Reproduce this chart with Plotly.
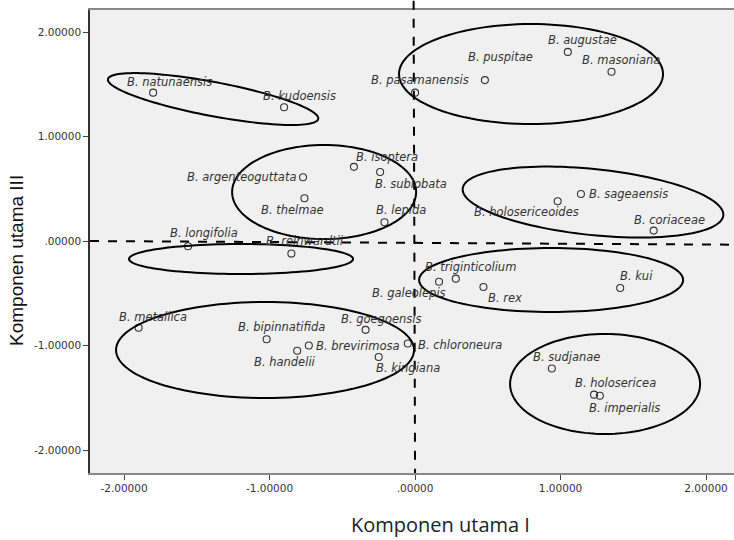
import math
import plotly.graph_objects as go

# ---------------- data ----------------
species = [
    "B. natunaensis", "B. kudoensis", "B. pasamanensis", "B. puspitae", "B. augustae",
    "B. masoniana", "B. argenteoguttata", "B. thelmae", "B. isoptera", "B. sublobata",
    "B. lepida", "B. holosericeoides", "B. sageaensis", "B. coriaceae", "B. longifolia",
    "B. reinwardtii", "B. galeolepis", "B. triginticolium", "B. rex", "B. kui",
    "B. goegoensis", "B. metallica", "B. bipinnatifida", "B. handelii", "B. brevirimosa",
    "B. chloroneura", "B. kingiana", "B. sudjanae", "B. holosericea", "B. imperialis",
]
komponen_1 = [
    -1.80, -0.90, 0.00, 0.48, 1.05,
    1.35, -0.77, -0.76, -0.42, -0.24,
    -0.21, 0.98, 1.14, 1.64, -1.56,
    -0.85, 0.165, 0.28, 0.47, 1.41,
    -0.34, -1.90, -1.02, -0.81, -0.73,
    -0.05, -0.25, 0.94, 1.23, 1.27,
]
komponen_3 = [
    1.42, 1.28, 1.42, 1.54, 1.81,
    1.62, 0.61, 0.41, 0.71, 0.66,
    0.18, 0.38, 0.45, 0.10, -0.05,
    -0.12, -0.39, -0.36, -0.44, -0.45,
    -0.85, -0.83, -0.94, -1.05, -1.00,
    -0.98, -1.11, -1.22, -1.47, -1.48,
]
x_ticks = [-2, -1, 0, 1, 2]
x_tick_text = ["-2.00000", "-1.00000", ".00000", "1.00000", "2.00000"]
y_ticks = [-2, -1, 0, 1, 2]
y_tick_text = ["-2.00000", "-1.00000", ".00000", "1.00000", "2.00000"]
x_title = "Komponen utama I"
y_title = "Komponen utama III"

# ---------------- label placement (screen px offsets, anchor) ----------------
label_offsets = [
    (16, -11, "center"), (15, -11, "center"), (5, -13, "center"), (16, -23, "center"), (15, -12, "center"),
    (10, -12, "center"), (-5, 0, "right"), (-12, 12, "center"), (0, -10, "left"), (-7, 12, "left"),
    (16, -12, "center"), (-31, 11, "center"), (6, 0, "left"), (16, -11, "center"), (16, -13, "center"),
    (14, -13, "center"), (-30, 11, "center"), (15, -12, "center"), (22, 11, "center"), (16, -12, "center"),
    (16, -11, "center"), (14, -11, "center"), (15, -12, "center"), (-12, 11, "center"), (5, 0, "left"),
    (8, 2, "left"), (29, 11, "center"), (15, -12, "center"), (21, -12, "center"), (25, 12, "center"),
]

# ellipses: centre (data), semi-axes (px), rotation (deg, y-up)
ellipses = [
    (-1.388, 1.359, 107, 17, -10.7),
    (0.797, 1.598, 132, 50, 0.0),
    (-0.625, 0.469, 92, 47, 0.0),
    (1.223, 0.373, 131, 33, -5.9),
    (-1.196, -0.172, 112, 15, 0.0),
    (0.935, -0.373, 132, 32, 0.0),
    (-1.031, -1.043, 149, 48, 0.0),
    (1.306, -1.368, 95, 50, 0.0),
]

W, H = 734, 540
ML, MR, MT, MB = 90, 0, 10, 67
XR = [-2.234, 2.192]
YR = [-2.22, 2.211]
sx = (W - ML - MR) / (XR[1] - XR[0])
sy = (H - MT - MB) / (YR[1] - YR[0])

LABEL_FONT = "DejaVu Sans"

fig = go.Figure()
fig.add_trace(go.Scatter(
    x=komponen_1, y=komponen_3, mode="markers",
    marker=dict(symbol="circle-open", size=7, color="#333333", line=dict(width=1.1)),
    hoverinfo="text", text=species, showlegend=False,
))

shapes = []
for cx, cy, a, b, ang in ellipses:
    th = math.radians(ang)
    pts = []
    for i in range(121):
        t = 2 * math.pi * i / 120
        px = a * math.cos(t) * math.cos(th) - b * math.sin(t) * math.sin(th)
        py = a * math.cos(t) * math.sin(th) + b * math.sin(t) * math.cos(th)
        pts.append((cx + px / sx, cy + py / sy))
    path = "M " + " L ".join(f"{x:.5f},{y:.5f}" for x, y in pts) + " Z"
    shapes.append(dict(type="path", path=path, xref="x", yref="y",
                       line=dict(color="black", width=2)))

# reference dashed lines
shapes.append(dict(type="line", xref="x", yref="paper", x0=-0.01, x1=0.0, y0=1.02, y1=0,
                   line=dict(color="black", width=2, dash="dash")))
shapes.append(dict(type="line", xref="paper", yref="y", x0=0, x1=1, y0=0.0, y1=-0.035,
                   line=dict(color="black", width=2, dash="dash")))

annotations = []
for name, x, y, (dx, dy, anc) in zip(species, komponen_1, komponen_3, label_offsets):
    annotations.append(dict(
        x=x, y=y, xref="x", yref="y", text=f"<i>{name}</i>", showarrow=False,
        xanchor=anc, yanchor="middle", xshift=dx, yshift=-dy,
        font=dict(family=LABEL_FONT, size=11.5, color="#333333"),
    ))

# axis titles
annotations.append(dict(x=0.545, y=-0.112, xref="paper", yref="paper", text=x_title,
                        showarrow=False, xanchor="center", yanchor="middle",
                        font=dict(family="Open Sans", size=20, color="#222")))
annotations.append(dict(x=-0.0, y=0.458, xref="paper", yref="paper", text=y_title,
                        showarrow=False, xanchor="center", yanchor="middle", textangle=-90,
                        xshift=-73,
                        font=dict(family="Liberation Sans", size=19, color="#111")))

fig.update_layout(
    width=W, height=H,
    margin=dict(l=ML, r=MR, t=MT, b=MB),
    paper_bgcolor="white", plot_bgcolor="#f0f0f0",
    shapes=shapes, annotations=annotations,
    font=dict(family=LABEL_FONT, color="#333333"),
)
fig.update_xaxes(
    range=XR, tickvals=x_ticks, ticktext=x_tick_text, showgrid=False, zeroline=False,
    ticks="outside", ticklen=5, tickcolor="#444",
    tickfont=dict(family=LABEL_FONT, size=10.5, color="#333"),
    showline=True, linecolor="#888", linewidth=1.5, mirror=True,
)
fig.update_yaxes(
    range=YR, tickvals=y_ticks, ticktext=y_tick_text, showgrid=False, zeroline=False,
    ticks="outside", ticklen=5, tickcolor="#444",
    tickfont=dict(family=LABEL_FONT, size=10.5, color="#333"),
    showline=True, linecolor="#333", linewidth=1.5,
)

fig.write_html("out.html")
